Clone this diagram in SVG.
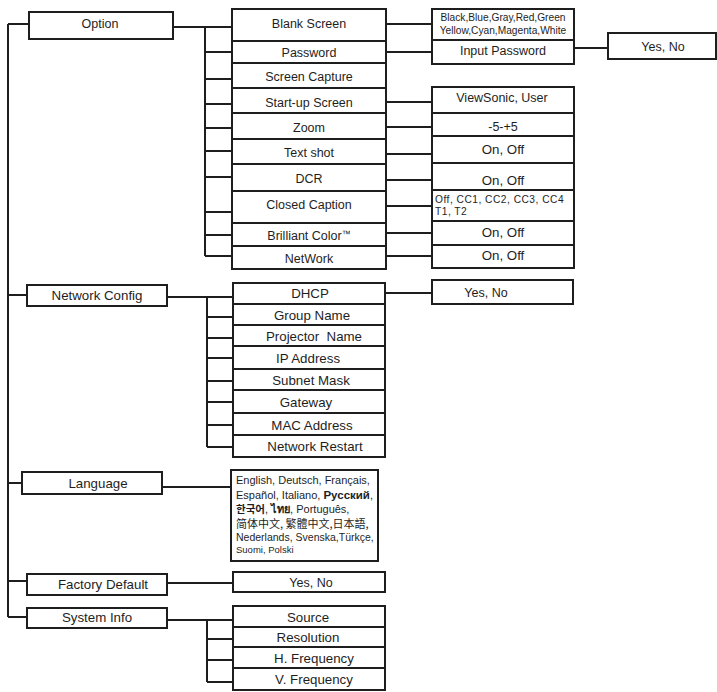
<svg xmlns="http://www.w3.org/2000/svg" width="717" height="692" viewBox="0 0 717 692">
<style>
rect{fill:#fff;stroke:#1e1e1e;stroke-width:2}
.c path{fill:none;stroke:#1e1e1e;stroke-width:2}
text{font-family:"Liberation Sans",Arial,"Noto Sans CJK SC",sans-serif;fill:#1e1e1e;text-anchor:middle}
.t{font-size:12.5px}
.n{font-size:13.3px}
.s{font-size:10.2px}
.l{font-size:11px;text-anchor:start}
</style>
<g class="c" id="connectors">
<path d="M8,24V617M8,24H29M8,295H27M8,483H22M8,581H27M8,617H27"/>
<path d="M173,27H232M205,27V256M205,52H232M205,79H232M205,104H232M205,128H232M205,151H232M205,177H232M205,212H232M205,235H232M205,256H232"/>
<path d="M386,24H432M386,52H432M386,102H432M386,127H432M386,154H432M386,180H432M386,206H432M386,233H432M386,256H432M574,48H608"/>
<path d="M167,297H233M207,297V447M207,317H233M207,338H233M207,358H233M207,381H233M207,402H233M207,425H233M207,447H233M385,293H432"/>
<path d="M162,487H231M167,583H233M167,620H233M207,620V682M207,639H233M207,660H233M207,682H233"/>
</g>
<g id="option"><rect x="29" y="12" width="144" height="27"/><text class="t" x="100" y="27.5">Option</text></g>
<g id="blank-screen"><rect x="232" y="9" width="154" height="32"/><text class="t" x="309" y="27.5">Blank Screen</text></g>
<g id="password"><rect x="232" y="41" width="154" height="22"/><text class="t" x="309" y="56.5">Password</text></g>
<g id="screen-capture"><rect x="232" y="63" width="154" height="25"/><text class="t" x="309" y="80.5">Screen Capture</text></g>
<g id="startup-screen"><rect x="232" y="88" width="154" height="25"/><text class="t" x="309" y="106.5">Start-up Screen</text></g>
<g id="zoom"><rect x="232" y="113" width="154" height="26"/><text class="t" x="309" y="131.5">Zoom</text></g>
<g id="text-shot"><rect x="232" y="139" width="154" height="25"/><text class="t" x="309" y="156.5">Text shot</text></g>
<g id="dcr"><rect x="232" y="164" width="154" height="27"/><text class="t" x="309" y="182.5">DCR</text></g>
<g id="closed-caption"><rect x="232" y="191" width="154" height="32"/><text class="t" x="309" y="208.5">Closed Caption</text></g>
<g id="brilliant-color"><rect x="232" y="223" width="154" height="23"/><text class="t" x="309" y="239.5">Brilliant Color<tspan font-size="9" dy="-3">™</tspan></text></g>
<g id="network"><rect x="232" y="246" width="154" height="23"/><text class="t" x="309" y="262.5">NetWork</text></g>
<g id="blank-colors"><rect x="432" y="9" width="142" height="31"/><text class="s" x="503" y="20.5">Black,Blue,Gray,Red,Green</text><text class="s" x="503" y="34">Yellow,Cyan,Magenta,White</text></g>
<g id="input-password"><rect x="432" y="40" width="142" height="24"/><text class="t" x="503" y="54.5">Input Password</text></g>
<g id="password-yes-no"><rect x="608" y="33" width="108" height="26"/><text class="t" x="663" y="51">Yes, No</text></g>
<g id="startup-values"><rect x="432" y="87" width="142" height="26"/><text class="t" x="502" y="101.5">ViewSonic, User</text></g>
<g id="zoom-values"><rect x="432" y="113" width="142" height="23"/><text class="t" x="503" y="130.5">-5-+5</text></g>
<g id="textshot-values"><rect x="432" y="136" width="142" height="27"/><text class="n" x="503" y="153.5">On, Off</text></g>
<g id="dcr-values"><rect x="432" y="163" width="142" height="27"/><text class="n" x="503" y="184.5">On, Off</text></g>
<g id="cc-values"><rect x="432" y="190" width="142" height="31"/><text class="s" x="435" y="202.5" style="text-anchor:start;letter-spacing:0.5px">Off, CC1, CC2, CC3, CC4</text><text class="s" x="435" y="214.5" style="text-anchor:start;letter-spacing:0.5px">T1, T2</text></g>
<g id="brilliant-values"><rect x="432" y="221" width="142" height="24"/><text class="n" x="503" y="236.5">On, Off</text></g>
<g id="network-values"><rect x="432" y="245" width="142" height="23"/><text class="n" x="503" y="259.5">On, Off</text></g>
<g id="network-config"><rect x="27" y="285" width="140" height="21"/><text class="n" x="97" y="299.5">Network Config</text></g>
<g id="dhcp"><rect x="233" y="283" width="152" height="21"/><text class="n" x="310" y="297.5">DHCP</text></g>
<g id="dhcp-yes-no"><rect x="432" y="280" width="141" height="24"/><text class="t" x="486" y="297">Yes, No</text></g>
<g id="group-name"><rect x="233" y="304" width="152" height="21"/><text class="n" x="312" y="319.5">Group Name</text></g>
<g id="projector-name"><rect x="233" y="325" width="152" height="21"/><text class="n" x="314" y="340.5" xml:space="preserve">Projector  Name</text></g>
<g id="ip-address"><rect x="233" y="346" width="152" height="23"/><text class="n" x="308" y="362.5">IP Address</text></g>
<g id="subnet-mask"><rect x="233" y="369" width="152" height="21"/><text class="n" x="311" y="384.5">Subnet Mask</text></g>
<g id="gateway"><rect x="233" y="390" width="152" height="23"/><text class="n" x="306" y="406.5">Gateway</text></g>
<g id="mac-address"><rect x="233" y="413" width="152" height="22"/><text class="n" x="312" y="429.5">MAC Address</text></g>
<g id="network-restart"><rect x="233" y="435" width="152" height="22"/><text class="n" x="315" y="451">Network Restart</text></g>
<g id="language"><rect x="22" y="472" width="140" height="22"/><text class="n" x="98" y="487.5">Language</text></g>
<g id="language-values"><rect x="231" y="470" width="147" height="91"/>
<text class="l" x="236" y="483.5">English, Deutsch, Français,</text>
<text class="l" x="236" y="499">Español, Italiano, <tspan font-weight="bold" font-size="11.5">Русский</tspan>,</text>
<text class="l" x="236" y="513"><tspan font-weight="bold" font-family="'Noto Sans CJK KR',sans-serif" font-size="10.5">한국어</tspan>, <tspan font-weight="bold">ไทย</tspan>, Português,</text>
<text class="l" x="236" y="527.5" style="font-family:'Noto Sans CJK SC','Noto Sans CJK TC','Noto Sans CJK JP',sans-serif;font-size:11px">简体中文, 繁體中文,日本語,</text>
<text class="l" x="236" y="540.5" style="font-size:10.5px">Nederlands, Svenska,Türkçe,</text>
<text class="l" x="236" y="553" style="font-size:9.5px">Suomi, Polski</text>
</g>
<g id="factory-default"><rect x="27" y="574" width="140" height="21"/><text class="n" x="103" y="588.5">Factory Default</text></g>
<g id="factory-yes-no"><rect x="233" y="572" width="152" height="20"/><text class="t" x="311" y="586.5">Yes, No</text></g>
<g id="system-info"><rect x="27" y="608" width="140" height="20"/><text class="n" x="97" y="621.5">System Info</text></g>
<g id="source"><rect x="233" y="606" width="152" height="21"/><text class="n" x="308" y="621.5">Source</text></g>
<g id="resolution"><rect x="233" y="627" width="152" height="20"/><text class="n" x="308" y="641.5">Resolution</text></g>
<g id="h-frequency"><rect x="233" y="647" width="152" height="21"/><text class="n" x="314" y="662.5">H. Frequency</text></g>
<g id="v-frequency"><rect x="233" y="668" width="152" height="22"/><text class="n" x="314" y="683.5">V. Frequency</text></g>
</svg>
